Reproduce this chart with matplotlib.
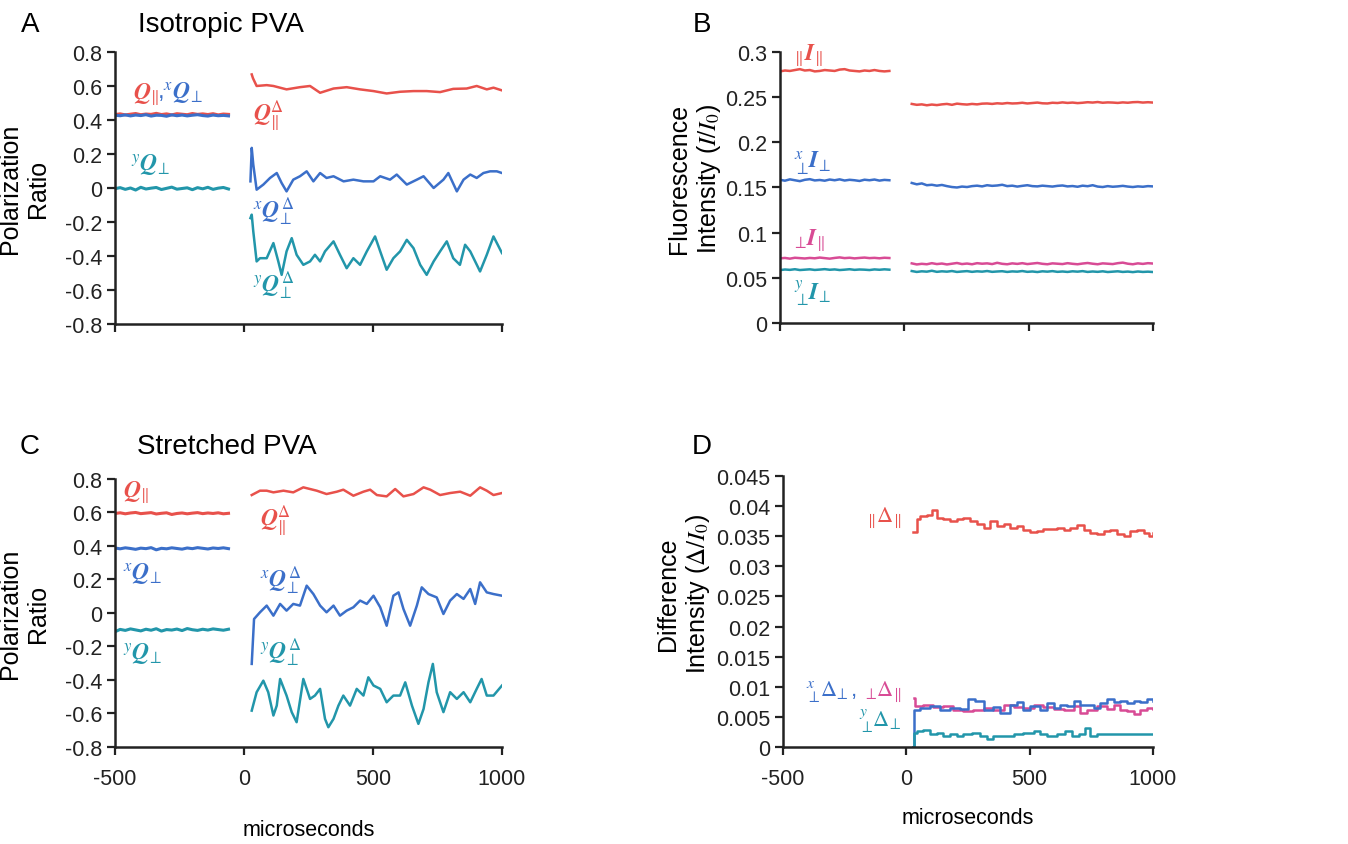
import numpy as np
import matplotlib
matplotlib.use('Agg')
import matplotlib.pyplot as plt

plt.rcParams['font.family'] = ['Liberation Sans', 'DejaVu Sans']
plt.rcParams['mathtext.fontset'] = 'stix'
plt.rcParams['axes.unicode_minus'] = False

RED = '#E8514B'
BLUE = '#3B6FC9'
TEAL = '#2296AA'
PINK = '#D84B95'

# ---- data (microseconds, values) ----
# pre-flash segments run from -500 to -60 us, post-flash from ~30 to 1000 us
PRE_START, PRE_END = -500, -60

# Panel A: isotropic PVA, polarization ratios
a_qpar_pre = [0.432, 0.436, 0.430, 0.434, 0.438, 0.431, 0.435, 0.433, 0.439, 0.432, 0.436, 0.430,
              0.437, 0.434, 0.431, 0.438, 0.433, 0.436, 0.432, 0.437, 0.430, 0.435, 0.433]
a_xq_pre = [0.428, 0.425, 0.430, 0.424, 0.429, 0.426, 0.431, 0.423, 0.428, 0.427, 0.422, 0.430,
            0.425, 0.429, 0.424, 0.428, 0.431, 0.426, 0.423, 0.429, 0.425, 0.427, 0.424]
a_yq_pre = [-0.004, 0.002, -0.008, 0.000, -0.012, 0.004, -0.006, -0.001, 0.003, -0.009, -0.002, 0.005,
            -0.007, -0.003, 0.001, -0.010, 0.002, -0.005, 0.004, -0.008, -0.001, 0.003, -0.006]

a_qpar_t = [30, 35, 49, 88, 114, 165, 217, 256, 295, 347, 398, 450, 502, 553, 605, 657, 708, 760,
            811, 863, 902, 941, 967, 1000]
a_qpar = [0.668, 0.645, 0.600, 0.605, 0.600, 0.580, 0.593, 0.600, 0.560, 0.585, 0.593, 0.580,
          0.570, 0.556, 0.566, 0.570, 0.570, 0.564, 0.583, 0.585, 0.600, 0.580, 0.590, 0.574]
a_xq_t = [25, 30, 36, 49, 75, 101, 127, 146, 165, 191, 217, 243, 269, 295, 320, 347, 386, 424, 463,
          502, 528, 566, 592, 631, 670, 696, 735, 773, 792, 825, 851, 877, 902, 928, 954, 980, 1000]
a_xq = [0.039, 0.236, 0.138, -0.01, 0.02, 0.059, 0.088, 0.029, -0.02, 0.049, 0.069, 0.098, 0.039,
        0.088, 0.059, 0.069, 0.039, 0.049, 0.039, 0.039, 0.069, 0.049, 0.079, 0.02, 0.049, 0.069,
        0.0, 0.049, 0.088, -0.02, 0.049, 0.079, 0.059, 0.088, 0.098, 0.098, 0.088]
a_yq_t = [25, 30, 36, 49, 62, 88, 114, 133, 146, 165, 185, 204, 230, 256, 275, 295, 314, 347, 372,
          398, 424, 450, 476, 508, 528, 553, 579, 605, 631, 657, 683, 708, 735, 760, 786, 811, 837,
          857, 877, 915, 941, 967, 1000]
a_yq = [-0.177, -0.157, -0.255, -0.432, -0.413, -0.413, -0.324, -0.432, -0.511, -0.373, -0.295,
        -0.393, -0.452, -0.432, -0.393, -0.432, -0.373, -0.314, -0.393, -0.472, -0.413, -0.452,
        -0.373, -0.285, -0.373, -0.481, -0.413, -0.373, -0.305, -0.354, -0.452, -0.511, -0.432,
        -0.373, -0.314, -0.413, -0.452, -0.334, -0.373, -0.491, -0.393, -0.285, -0.383]

# Panel B: isotropic PVA, fluorescence intensities
b_ipar_pre = [0.2785, 0.2795, 0.2790, 0.2800, 0.2810, 0.2795, 0.2800, 0.2785, 0.2790, 0.2800, 0.2795,
              0.2790, 0.2805, 0.2810, 0.2795, 0.2790, 0.2785, 0.2795, 0.2790, 0.2800, 0.2790, 0.2785,
              0.2790]
b_ipar_post = [0.2425, 0.2415, 0.2420, 0.2410, 0.2418, 0.2412, 0.2420, 0.2425, 0.2415, 0.2428, 0.2422,
               0.2418, 0.2425, 0.2420, 0.2428, 0.2430, 0.2425, 0.2432, 0.2428, 0.2435, 0.2430, 0.2432,
               0.2438, 0.2430, 0.2435, 0.2440, 0.2432, 0.2430, 0.2438, 0.2435, 0.2442, 0.2436, 0.2440,
               0.2434, 0.2438, 0.2444, 0.2440, 0.2446, 0.2438, 0.2442, 0.2440, 0.2436, 0.2442, 0.2438,
               0.2444, 0.2446, 0.2440, 0.2444, 0.2440]
b_xi_pre = [0.1585, 0.1575, 0.1590, 0.1580, 0.1570, 0.1585, 0.1592, 0.1578, 0.1583, 0.1575, 0.1588,
            0.1580, 0.1590, 0.1577, 0.1585, 0.1580, 0.1572, 0.1586, 0.1580, 0.1588, 0.1576, 0.1584,
            0.1580]
b_xi_post = [0.1550, 0.1535, 0.1545, 0.1525, 0.1530, 0.1520, 0.1528, 0.1515, 0.1505, 0.1500, 0.1510,
             0.1505, 0.1515, 0.1520, 0.1512, 0.1525, 0.1518, 0.1522, 0.1530, 0.1515, 0.1520, 0.1510,
             0.1518, 0.1525, 0.1515, 0.1512, 0.1520, 0.1515, 0.1510, 0.1518, 0.1522, 0.1512, 0.1516,
             0.1508, 0.1520, 0.1514, 0.1525, 0.1510, 0.1505, 0.1515, 0.1508, 0.1512, 0.1518, 0.1510,
             0.1505, 0.1512, 0.1508, 0.1515, 0.1512]
b_pi_pre = [0.0715, 0.0720, 0.0712, 0.0722, 0.0718, 0.0714, 0.0720, 0.0716, 0.0724, 0.0718, 0.0712,
            0.0720, 0.0726, 0.0718, 0.0722, 0.0715, 0.0720, 0.0724, 0.0718, 0.0721, 0.0716, 0.0722,
            0.0719]
b_pi_post = [0.0660, 0.0648, 0.0655, 0.0650, 0.0662, 0.0652, 0.0658, 0.0648, 0.0656, 0.0664, 0.0652,
             0.0658, 0.0650, 0.0662, 0.0656, 0.0660, 0.0652, 0.0666, 0.0655, 0.0650, 0.0660, 0.0654,
             0.0662, 0.0652, 0.0658, 0.0664, 0.0655, 0.0650, 0.0660, 0.0656, 0.0652, 0.0662, 0.0655,
             0.0650, 0.0658, 0.0664, 0.0656, 0.0650, 0.0660, 0.0656, 0.0652, 0.0662, 0.0668, 0.0656,
             0.0650, 0.0660, 0.0654, 0.0662, 0.0658]
b_yi_pre = [0.0585, 0.0592, 0.0588, 0.0595, 0.0586, 0.0590, 0.0594, 0.0587, 0.0591, 0.0596, 0.0589,
            0.0593, 0.0586, 0.0590, 0.0595, 0.0588, 0.0592, 0.0590, 0.0586, 0.0593, 0.0589, 0.0594,
            0.0590]
b_yi_post = [0.0575, 0.0565, 0.0572, 0.0568, 0.0578, 0.0566, 0.0572, 0.0568, 0.0575, 0.0565, 0.0570,
             0.0574, 0.0566, 0.0572, 0.0568, 0.0575, 0.0566, 0.0570, 0.0573, 0.0565, 0.0571, 0.0568,
             0.0575, 0.0566, 0.0570, 0.0564, 0.0572, 0.0568, 0.0574, 0.0566, 0.0570, 0.0565, 0.0572,
             0.0568, 0.0574, 0.0565, 0.0570, 0.0566, 0.0572, 0.0564, 0.0568, 0.0572, 0.0565, 0.0569,
             0.0563, 0.0570, 0.0565, 0.0568, 0.0564]

# Panel C: stretched PVA, polarization ratios
c_qpar_pre = [0.594, 0.598, 0.592, 0.597, 0.600, 0.593, 0.596, 0.599, 0.591, 0.595, 0.598, 0.588,
              0.594, 0.597, 0.592, 0.596, 0.599, 0.593, 0.597, 0.594, 0.598, 0.592, 0.595]
c_xq_pre = [0.388, 0.383, 0.389, 0.385, 0.380, 0.387, 0.384, 0.390, 0.377, 0.386, 0.383, 0.389,
            0.385, 0.381, 0.388, 0.384, 0.390, 0.386, 0.382, 0.388, 0.385, 0.389, 0.384]
c_yq_pre = [-0.112, -0.098, -0.104, -0.095, -0.101, -0.107, -0.097, -0.103, -0.094, -0.108, -0.099,
            -0.102, -0.096, -0.105, -0.093, -0.100, -0.104, -0.097, -0.102, -0.095, -0.099, -0.103,
            -0.097]

c_qpar_t = [30, 62, 88, 114, 153, 191, 230, 256, 282, 320, 360, 385, 424, 463, 489, 515, 553, 586,
            618, 657, 696, 722, 760, 799, 838, 877, 915, 941, 967, 1000]
c_qpar = [0.704, 0.730, 0.730, 0.720, 0.730, 0.720, 0.750, 0.740, 0.730, 0.710, 0.724, 0.736, 0.700,
          0.724, 0.736, 0.704, 0.696, 0.740, 0.696, 0.710, 0.750, 0.736, 0.704, 0.716, 0.724, 0.700,
          0.750, 0.730, 0.704, 0.716]
c_xq_t = [30, 39, 62, 88, 114, 140, 165, 191, 217, 243, 269, 295, 320, 347, 372, 398, 424, 450, 476,
          502, 528, 553, 579, 599, 618, 644, 670, 689, 715, 747, 773, 799, 825, 851, 877, 896, 915,
          941, 967, 1000]
c_xq = [-0.304, -0.036, 0.004, 0.044, -0.016, 0.054, 0.014, 0.054, 0.044, 0.163, 0.113, 0.044,
        0.004, 0.044, -0.016, 0.014, 0.034, 0.074, 0.054, 0.103, 0.034, -0.076, 0.103, 0.123, 0.024,
        -0.076, 0.044, 0.153, 0.113, 0.093, -0.006, 0.074, 0.113, 0.084, 0.143, 0.054, 0.183, 0.123,
        0.113, 0.103]
c_yq_t = [30, 49, 75, 94, 114, 127, 140, 165, 185, 204, 230, 256, 275, 295, 314, 327, 347, 366, 385,
          411, 437, 463, 482, 502, 528, 553, 579, 605, 625, 651, 676, 696, 715, 732, 747, 773, 799,
          825, 851, 877, 902, 921, 941, 967, 1000]
c_yq = [-0.583, -0.473, -0.404, -0.473, -0.612, -0.553, -0.394, -0.493, -0.592, -0.652, -0.394,
        -0.513, -0.493, -0.453, -0.632, -0.682, -0.632, -0.553, -0.493, -0.553, -0.453, -0.493,
        -0.384, -0.433, -0.453, -0.533, -0.493, -0.493, -0.414, -0.553, -0.662, -0.573, -0.414,
        -0.304, -0.473, -0.592, -0.473, -0.513, -0.473, -0.533, -0.453, -0.394, -0.493, -0.493,
        -0.433]

# Panel D: stretched PVA, difference intensities
d_par_t = [28, 42, 55, 83, 103, 123, 150, 177, 204, 231, 258, 286, 313, 340, 367, 394, 421, 448,
           475, 502, 529, 556, 583, 611, 638, 665, 692, 719, 746, 773, 800, 827, 854, 881, 908, 935,
           963, 983, 1000]
d_par = [0.0357, 0.0378, 0.0384, 0.0386, 0.0394, 0.0381, 0.0378, 0.0375, 0.0378, 0.0380, 0.0375,
         0.0370, 0.0364, 0.0375, 0.0367, 0.0370, 0.0364, 0.0367, 0.0361, 0.0357, 0.0359, 0.0362,
         0.0362, 0.0364, 0.0361, 0.0364, 0.0368, 0.0361, 0.0356, 0.0353, 0.0359, 0.0361, 0.0353,
         0.0351, 0.0359, 0.0360, 0.0356, 0.0350, 0.0355]
d_x_t = [28, 31, 55, 96, 137, 177, 218, 252, 279, 313, 353, 380, 421, 448, 475, 502, 543, 570, 597,
         624, 651, 678, 705, 733, 760, 787, 814, 841, 868, 895, 922, 949, 976, 1000]
d_x = [0.0, 0.0062, 0.0065, 0.0068, 0.0062, 0.0065, 0.0063, 0.0079, 0.0076, 0.0062, 0.0067, 0.0057,
       0.0070, 0.0074, 0.0062, 0.0068, 0.0061, 0.0073, 0.0065, 0.0069, 0.0068, 0.0076, 0.0069,
       0.0070, 0.0065, 0.0073, 0.0079, 0.0074, 0.0076, 0.0073, 0.0076, 0.0074, 0.0080, 0.0076]
d_p_t = [31, 35, 69, 110, 150, 191, 231, 272, 313, 353, 394, 435, 475, 516, 556, 597, 638, 678, 705,
         733, 773, 814, 841, 868, 895, 922, 949, 976, 1000]
d_p = [0.0081, 0.0068, 0.0070, 0.0067, 0.0068, 0.0062, 0.0059, 0.0062, 0.0065, 0.0062, 0.0069,
       0.0067, 0.0065, 0.0070, 0.0067, 0.0063, 0.0062, 0.0068, 0.0057, 0.0062, 0.0068, 0.0063,
       0.0069, 0.0062, 0.0059, 0.0054, 0.0061, 0.0065, 0.0063]
d_y_t = [28, 31, 42, 69, 96, 123, 150, 177, 204, 231, 265, 299, 326, 353, 394, 435, 475, 516, 543,
         570, 611, 645, 672, 699, 726, 746, 773, 814, 854, 895, 935, 976, 1000]
d_y = [0.0, 0.0023, 0.0026, 0.0028, 0.0021, 0.0023, 0.0019, 0.0021, 0.0018, 0.0021, 0.0023, 0.0018,
       0.0013, 0.0018, 0.0019, 0.0021, 0.0023, 0.0026, 0.0021, 0.0018, 0.0021, 0.0026, 0.0018,
       0.0021, 0.0032, 0.0019, 0.0021, 0.0021, 0.0022, 0.0021, 0.0022, 0.0021, 0.0022]

x_ticks = [-500, 0, 500, 1000]
a_yticks = [0.8, 0.6, 0.4, 0.2, 0, -0.2, -0.4, -0.6, -0.8]
b_yticks = [0.3, 0.25, 0.2, 0.15, 0.1, 0.05, 0]
d_yticks = [0.045, 0.04, 0.035, 0.03, 0.025, 0.02, 0.015, 0.01, 0.005, 0]


def pre(vals):
    return np.linspace(PRE_START, PRE_END, len(vals)), vals


def post(vals):
    return np.linspace(30, 1000, len(vals)), vals


def style_axes(ax, yticks, show_x=True):
    for s in ['top', 'right']:
        ax.spines[s].set_visible(False)
    for s in ['left', 'bottom']:
        ax.spines[s].set_linewidth(1.8)
        ax.spines[s].set_color('#222222')
    ax.set_xlim(-500, 1000)
    ax.set_ylim(min(yticks), max(yticks))
    ax.set_xticks(x_ticks)
    ax.set_yticks(yticks)
    ax.set_yticklabels(['{:g}'.format(v) for v in yticks])
    ax.tick_params(direction='out', length=6, width=1.6, labelsize=15.5, colors='#222222', pad=3)
    ax.tick_params(axis='x', pad=9)
    if not show_x:
        ax.set_xticklabels([])


fig = plt.figure(figsize=(13.48, 8.45), dpi=100)
axA = fig.add_axes([0.0853, 0.6154, 0.2871, 0.3219])
axB = fig.add_axes([0.5786, 0.6166, 0.2767, 0.3207])
axC = fig.add_axes([0.0853, 0.1148, 0.2871, 0.3172])
axD = fig.add_axes([0.5809, 0.1148, 0.2744, 0.3207])

LW = 1.8
LWP = 2.2
YLAB = 18

# ---- A ----
axA.plot(*pre(a_qpar_pre), color=RED, lw=LWP)
axA.plot(*pre(a_xq_pre), color=BLUE, lw=LWP)
axA.plot(*pre(a_yq_pre), color=TEAL, lw=LWP)
axA.plot(a_qpar_t, a_qpar, color=RED, lw=LW)
axA.plot(a_xq_t, a_xq, color=BLUE, lw=LW)
axA.plot(a_yq_t, a_yq, color=TEAL, lw=LW)
style_axes(axA, a_yticks, show_x=False)
axA.set_ylabel('Polarization\nRatio', fontsize=YLAB, multialignment='center')
axA.yaxis.set_label_coords(-0.168, 0.5)

lab = dict(fontsize=17, va='center', ha='left')
axA.text(-432, 0.56, r'$\mathbfit{Q}_{\!\parallel}$', color=RED, **lab)
axA.text(-336, 0.56, r',${}^{x}\mathbfit{Q}_{\!\perp}$', color=BLUE, **lab)
axA.text(36, 0.43, r'$\mathbfit{Q}_{\!\parallel}^{\Delta}$', color=RED, **lab)
axA.text(-436, 0.137, r'${}^{y}\mathbfit{Q}_{\!\perp}$', color=TEAL, **lab)
axA.text(36, -0.137, r'${}^{x}\mathbfit{Q}_{\!\perp}^{\,\Delta}$', color=BLUE, **lab)
axA.text(36, -0.57, r'${}^{y}\mathbfit{Q}_{\!\perp}^{\,\Delta}$', color=TEAL, **lab)

# ---- B ----
for p, q, c in [(b_ipar_pre, b_ipar_post, RED), (b_xi_pre, b_xi_post, BLUE),
                (b_pi_pre, b_pi_post, PINK), (b_yi_pre, b_yi_post, TEAL)]:
    axB.plot(*pre(p), color=c, lw=LW)
    axB.plot(*post(q), color=c, lw=LW)
style_axes(axB, b_yticks, show_x=False)
axB.set_ylabel('Fluorescence\nIntensity ($I/I_0$)', fontsize=YLAB, multialignment='center')
axB.yaxis.set_label_coords(-0.153, 0.537)
axB.text(-453, 0.298, r'${}_{\parallel}\!\mathbfit{I}_{\!\parallel}$', color=RED, **lab)
axB.text(-445, 0.178, r'${}^{x}_{\perp}\!\mathbfit{I}_{\!\perp}$', color=BLUE, **lab)
axB.text(-453, 0.093, r'${}_{\perp}\!\mathbfit{I}_{\!\parallel}$', color=PINK, **lab)
axB.text(-445, 0.034, r'${}^{y}_{\perp}\!\mathbfit{I}_{\!\perp}$', color=TEAL, **lab)

# ---- C ----
axC.plot(*pre(c_qpar_pre), color=RED, lw=LWP)
axC.plot(*pre(c_xq_pre), color=BLUE, lw=LWP)
axC.plot(*pre(c_yq_pre), color=TEAL, lw=LWP)
axC.plot(c_qpar_t, c_qpar, color=RED, lw=LW)
axC.plot(c_xq_t, c_xq, color=BLUE, lw=LW)
axC.plot(c_yq_t, c_yq, color=TEAL, lw=LW)
style_axes(axC, a_yticks)
axC.set_ylabel('Polarization\nRatio', fontsize=YLAB, multialignment='center')
axC.yaxis.set_label_coords(-0.168, 0.5)
axC.set_xlabel('microseconds', fontsize=15.5)
axC.xaxis.set_label_coords(0.5, -0.27)
axC.text(-468, 0.73, r'$\mathbfit{Q}_{\!\parallel}$', color=RED, **lab)
axC.text(62, 0.56, r'$\mathbfit{Q}_{\!\parallel}^{\Delta}$', color=RED, **lab)
axC.text(-468, 0.233, r'${}^{x}\mathbfit{Q}_{\!\perp}$', color=BLUE, **lab)
axC.text(-468, -0.245, r'${}^{y}\mathbfit{Q}_{\!\perp}$', color=TEAL, **lab)
axC.text(62, 0.2, r'${}^{x}\mathbfit{Q}_{\!\perp}^{\,\Delta}$', color=BLUE, **lab)
axC.text(62, -0.235, r'${}^{y}\mathbfit{Q}_{\!\perp}^{\,\Delta}$', color=TEAL, **lab)

# ---- D ----
axD.plot(d_par_t, d_par, color=RED, lw=LW, drawstyle='steps-post')
axD.plot(d_p_t, d_p, color=PINK, lw=LW, drawstyle='steps-post')
axD.plot(d_x_t, d_x, color=BLUE, lw=LW, drawstyle='steps-post')
axD.plot(d_y_t, d_y, color=TEAL, lw=LW, drawstyle='steps-post')
style_axes(axD, d_yticks)
axD.set_ylabel('Difference\nIntensity ($\\Delta/I_0$)', fontsize=YLAB, multialignment='center')
axD.yaxis.set_label_coords(-0.192, 0.568)
axD.set_xlabel('microseconds', fontsize=15.5)
axD.xaxis.set_label_coords(0.5, -0.22)
labr = dict(fontsize=16, va='center', ha='right')
axD.text(-19, 0.0383, r'${}_{\parallel}\!\Delta_{\!\parallel}$', color=RED, **labr)
axD.text(-19, 0.0093, r'${}_{\perp}\!\Delta_{\!\parallel}$', color=PINK, **labr)
axD.text(-200, 0.0093, r'${}^{x}_{\perp}\!\Delta_{\!\perp}$,', color=BLUE, **labr)
axD.text(-19, 0.0045, r'${}^{y}_{\perp}\!\Delta_{\!\perp}$', color=TEAL, **labr)

# ---- panel letters and titles ----
fig.text(30 / 1348, 1 - 25 / 845, 'A', fontsize=20, ha='center', va='center')
fig.text(221 / 1348, 1 - 25 / 845, 'Isotropic PVA', fontsize=20, ha='center', va='center')
fig.text(702 / 1348, 1 - 25 / 845, 'B', fontsize=20, ha='center', va='center')
fig.text(30 / 1348, 1 - 447 / 845, 'C', fontsize=20, ha='center', va='center')
fig.text(227 / 1348, 1 - 447 / 845, 'Stretched PVA', fontsize=20, ha='center', va='center')
fig.text(702 / 1348, 1 - 447 / 845, 'D', fontsize=20, ha='center', va='center')

fig.savefig('out.png', dpi=100)
